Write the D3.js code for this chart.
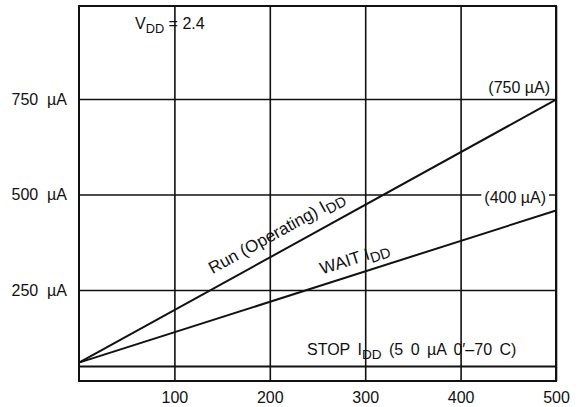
<!DOCTYPE html>
<html>
<head>
<meta charset="utf-8">
<script src="https://cdn.jsdelivr.net/npm/d3@7"></script>
<style>
  html, body { margin: 0; padding: 0; background: #fff; }
  svg { display: block; }
  text { font-family: "Liberation Sans", Arial, Helvetica, sans-serif; fill: #111; }
</style>
</head>
<body>
<svg id="chart" width="582" height="407"></svg>
<script>
// ---- data ----
const freq = [0, 500];             // x values (line end points)
const runIdd = [60, 748];          // Run (Operating) IDD, µA
const waitIdd = [60, 458];         // WAIT IDD, µA
const stopIdd = [50, 50];          // STOP IDD, µA
const xTicks = [100, 200, 300, 400, 500];
const yTicks = [250, 500, 750];
const yTickLabels = ["250  µA", "500  µA", "750  µA"];
const runLabelAt = 140;   // x position of label along line
const waitLabelAt = 255;

// ---- layout ----
const svg = d3.select("#chart");
const mLeft = 79, mRight = 556, mTop = 6, mBottom = 381;
const x = d3.scaleLinear().domain([0, 500]).range([mLeft, mRight]);
const y = d3.scaleLinear().domain([12, 993]).range([mBottom, mTop]);
const ink = "#111";
const FS = 16;

// gridlines via axes
const yAxis = d3.axisLeft(y).tickValues(yTicks)
  .tickSize(-(mRight - mLeft)).tickPadding(12)
  .tickFormat((d, i) => yTickLabels[i]);
const gy = svg.append("g").attr("transform", `translate(${mLeft},0)`).call(yAxis);
gy.select(".domain").remove();
gy.selectAll(".tick line").attr("stroke", ink).attr("stroke-width", 1.5);
gy.selectAll(".tick text").attr("font-size", FS).attr("fill", ink)
  .style("white-space", "pre")
  .style("font-family", '"Liberation Sans", Arial, sans-serif');

const xAxis = d3.axisBottom(x).tickValues(xTicks)
  .tickSize(-(mBottom - mTop)).tickPadding(11);
const gx = svg.append("g").attr("transform", `translate(0,${mBottom})`).call(xAxis);
gx.select(".domain").remove();
gx.selectAll(".tick line").attr("stroke", ink).attr("stroke-width", 1.6);
gx.selectAll(".tick text").attr("font-size", FS).attr("fill", ink)
  .style("font-family", '"Liberation Sans", Arial, sans-serif');

// frame
svg.append("rect").attr("x", mLeft).attr("y", mTop)
  .attr("width", mRight - mLeft).attr("height", mBottom - mTop)
  .attr("fill", "none").attr("stroke", ink).attr("stroke-width", 2);

// data lines
const line = d3.line().x(d => x(d[0])).y(d => y(d[1]));
[runIdd, waitIdd, stopIdd].forEach(vals => {
  svg.append("path")
    .datum(freq.map((f, i) => [f, vals[i]]))
    .attr("d", line)
    .attr("fill", "none").attr("stroke", ink).attr("stroke-width", 2);
});

// helper: text with IDD subscript
function subText(sel, before, after, size) {
  sel.append("tspan").text(before);
  sel.append("tspan").attr("font-size", size * 0.85).attr("dy", 4).text("DD");
  if (after) sel.append("tspan").attr("dy", -4).text(after);
}

// V_DD = 2.4
const vdd = svg.append("text").attr("x", 135).attr("y", 29).attr("font-size", FS);
vdd.append("tspan").text("V");
vdd.append("tspan").attr("font-size", FS * 0.8).attr("dy", 4).text("DD");
vdd.append("tspan").attr("dy", -4).text(" = 2.4");

// (750 µA)
svg.append("text").attr("x", mRight - 6).attr("y", y(750) - 6)
  .attr("text-anchor", "end").attr("font-size", FS).text("(750 µA)");

// (400 µA) with white background over the gridline
const t400 = svg.append("text").attr("x", mRight - 10).attr("y", y(500) + 9)
  .attr("text-anchor", "end").attr("font-size", FS).text("(400 µA)");
const bb = t400.node().getBBox();
svg.insert("rect", () => t400.node()).attr("x", bb.x - 3).attr("y", bb.y + 1)
  .attr("width", bb.width + 6).attr("height", bb.height - 2).attr("fill", "#fff");

// STOP label
const stop = svg.append("text").attr("x", 307).attr("y", y(stopIdd[0]) - 11)
  .attr("font-size", FS).attr("word-spacing", 3);
subText(stop, "STOP I", " (5 0 µA 0\u2032\u201370 C)", FS);

// rotated labels along lines
function along(vals, at, dx, dy, before, fs) {
  const ang = Math.atan2(y(vals[1]) - y(vals[0]), x(freq[1]) - x(freq[0])) * 180 / Math.PI;
  const v = vals[0] + (vals[1] - vals[0]) * (at - freq[0]) / (freq[1] - freq[0]);
  const t = svg.append("text")
    .attr("transform", `translate(${x(at)},${y(v)}) rotate(${ang})`)
    .attr("x", dx).attr("y", dy).attr("font-size", fs);
  subText(t, before, null, fs);
}
along(runIdd, runLabelAt, 7, -13, "Run (Operating) I", 17);
along(waitIdd, waitLabelAt, 3, -10, "WAIT I", 17);
</script>
</body>
</html>
